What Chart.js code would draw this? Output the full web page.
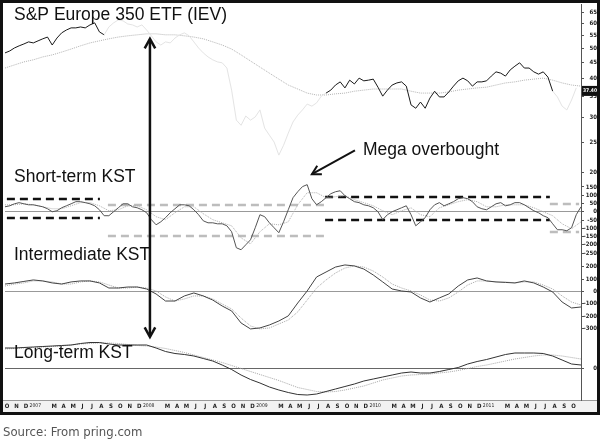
<!DOCTYPE html>
<html>
<head>
<meta charset="utf-8">
<script src="https://cdn.jsdelivr.net/npm/chart.js@4/dist/chart.umd.min.js"></script>
<style>
  html, body { margin: 0; padding: 0; background: #fff; }
  canvas { display: block; }
</style>
</head>
<body>
<canvas id="kstChart" width="600" height="440"></canvas>
<script>
// x is counted in months from Oct 2006 (0) to Nov 2011 (61)
const monthLabels = ['O', 'N', 'D',
    '2007', '', 'M', 'A', 'M', 'J', 'J', 'A', 'S', 'O', 'N', 'D',
    '2008', '', 'M', 'A', 'M', 'J', 'J', 'A', 'S', 'O', 'N', 'D',
    '2009', '', 'M', 'A', 'M', 'J', 'J', 'A', 'S', 'O', 'N', 'D',
    '2010', '', 'M', 'A', 'M', 'J', 'J', 'A', 'S', 'O', 'N', 'D',
    '2011', '', 'M', 'A', 'M', 'J', 'J', 'A', 'S', 'O', ''];

// S&P Europe 350 ETF, twice a month
const priceValues = [48.4, 49.1, 50.2, 51.0, 51.7, 52.5, 52.1, 52.9, 53.7, 54.4,
    51.3, 54.0, 56.1, 57.3, 58.2, 58.2, 58.6, 58.2, 59.5, 60.4,
    56.5, 55.3, 58.6, 60.4, 61.7, 61.3, 59.9, 59.5, 58.6, 59.5,
    57.3, 54.9, 52.5, 51.3, 52.5, 52.1, 54.0, 55.3, 56.1, 54.9,
    52.5, 50.2, 48.4, 47.0, 46.0, 45.3, 45.0, 43.3, 36.8, 29.5,
    28.4, 30.4, 29.5, 30.2, 31.8, 27.8, 26.4, 25.1, 22.8, 24.5,
    26.8, 29.1, 30.6, 31.8, 33.2, 32.7, 33.5, 35.2, 36.0, 36.8,
    38.2, 39.1, 37.4, 39.6, 38.5, 40.2, 39.4, 39.6, 39.9, 37.6,
    35.2, 36.8, 38.2, 38.8, 39.1, 37.9, 33.0, 32.2, 33.7, 32.2,
    34.7, 36.5, 35.0, 35.0, 36.3, 37.9, 39.4, 40.2, 39.4, 37.9,
    39.1, 39.1, 39.4, 40.8, 42.1, 41.7, 40.8, 42.7, 43.9, 45.0,
    43.3, 43.3, 42.1, 41.4, 42.1, 40.5, 36.5, 35.0, 32.7, 31.8,
    34.2, 37.4];
// monthly moving average of the price
const priceAverage = [43.3, 44.3, 45.3, 46.0, 47.0, 47.7, 48.7, 49.8, 51.0, 52.1,
    52.9, 53.7, 54.4, 54.9, 55.3, 55.7, 55.7, 55.3, 55.3, 54.9,
    54.4, 53.7, 52.5, 51.3, 49.8, 47.7, 45.6, 43.6, 41.7, 39.9,
    38.2, 37.1, 36.0, 35.5, 35.5, 35.8, 36.0, 36.5, 36.8, 37.1,
    37.1, 37.1, 37.1, 36.5, 36.0, 36.0, 36.0, 36.3, 36.8, 37.1,
    37.4, 37.6, 38.2, 38.8, 39.1, 39.6, 39.9, 40.2, 39.6, 38.8,
    38.2, 37.9];
// months where the price is printed in black
const highlightFrom = [0, 34];
const highlightTo = [10.5, 58];

// short-term KST, twice a month
const shortKst = [30, 36, 48, 55, 48, 42, 42, 36, 30, 18,
    0, 6, 24, 36, 48, 61, 61, 55, 48, 36,
    12, -24, -24, 0, 24, 48, 48, 30, 24, 12,
    -6, -48, -79, -61, -36, -6, 18, 42, 42, 36,
    12, -18, -55, -67, -67, -73, -73, -85, -121, -218,
    -230, -200, -170, -97, -18, -30, -67, -97, -127, -61,
    12, 85, 121, 152, 164, 79, 42, 61, 85, 109,
    121, 127, 97, 79, 61, 55, 42, 36, 24, 0,
    -48, -18, 0, 12, 24, 36, -18, -85, -61, -36,
    12, 42, 55, 36, 48, 61, 79, 85, 79, 61,
    30, 18, 12, 30, 48, 55, 36, 42, 55, 55,
    42, 24, 6, -6, -24, -36, -73, -109, -109, -115,
    -97, -18, 30];
const shortSignal = [42, 42, 48, 42, 30, 18, 18, 36, 55, 55,
    36, 6, 12, 36, 36, 12, -30, -48, -6, 30,
    30, -12, -48, -67, -85, -158, -194, -121, -73, -79,
    -61, 42, 115, 115, 85, 91, 97, 73, 55, 36,
    6, -18, 6, 24, -18, -30, 24, 42, 61, 73,
    61, 30, 30, 42, 42, 42, 24, 0, -24, -73,
    -103, -61];
// overbought / oversold bands on the short-term KST (months, levels)
const blackBandFrom = [0.2, 33.9];
const blackBandTo = [10.05, 57.7];
const blackBandHigh = [77, 89];
const blackBandLow = [-38, -50];
const grayBandFrom = [10.9, 57.7];
const grayBandTo = [33.9, 60.8];
const grayBandHigh = [41, 47];
const grayBandLow = [-147, -123];

// intermediate KST, monthly
const intKst = [60, 69, 81, 93, 85, 69, 60, 77, 85, 85,
    69, 28, 28, 36, 36, 20, -20, -77, -77, -36,
    -12, -36, -69, -117, -157, -254, -302, -294, -270, -238,
    -197, -93, 4, 117, 157, 197, 214, 206, 181, 133,
    77, 20, 4, -4, -52, -85, -52, -20, 44, 93,
    109, 85, 77, 73, 69, 85, 69, 36, -4, -85,
    -133, -125];
const intSignal = [44, 60, 69, 85, 85, 77, 60, 60, 77, 85,
    77, 52, 28, 28, 36, 28, 4, -44, -77, -60,
    -36, -36, -60, -101, -141, -214, -278, -302, -294, -262,
    -230, -165, -69, 28, 93, 149, 189, 206, 197, 165,
    117, 60, 28, 4, -28, -69, -77, -52, -4, 52,
    85, 85, 77, 77, 69, 77, 77, 52, 20, -36,
    -85, -109];

// long-term KST, monthly
const longKst = [80, 80, 82, 84, 86, 88, 90, 92, 98, 102,
    102, 96, 92, 92, 92, 92, 80, 66, 58, 54,
    48, 38, 28, 12, -6, -28, -46, -60, -76, -88,
    -98, -106, -108, -104, -94, -84, -74, -64, -52, -44,
    -36, -28, -20, -16, -20, -20, -14, -6, 2, 16,
    26, 34, 44, 54, 60, 60, 60, 58, 48, 32,
    16, 12];
const longSignal = [76, 78, 80, 82, 84, 86, 88, 92, 96, 98,
    100, 100, 98, 94, 90, 88, 84, 78, 70, 62,
    52, 42, 32, 22, 10, -2, -14, -26, -38, -50,
    -64, -78, -86, -94, -96, -94, -88, -80, -72, -60,
    -48, -40, -32, -28, -26, -24, -20, -16, -10, -2,
    6, 12, 20, 28, 36, 42, 48, 52, 52, 48,
    42, 36];

const priceTicks = [20, 25, 30, 35, 40, 45, 50, 55, 60, 65];
const shortTicks = [150, 100, 50, 0, -50, -100, -150, -200, -250];
const intTicks = [200, 100, 0, -100, -200, -300];
const longTicks = [0];

const HALF_MONTH = 0.5;
const MONTH = 1;

const tinyFamily = '"Liberation Sans Narrow", "DejaVu Sans Condensed", "Liberation Sans", sans-serif';
const tinyFont = { family: tinyFamily, size: 6, weight: 'bold' };
const yearFont = { family: tinyFamily, size: 5, weight: 'normal' };
const titleFont = '17.5px "Liberation Sans", Arial, sans-serif';

function toPoints(values, step)
{
    return values.map((v, i) => ({ x: i * step, y: v }));
}

function isHighlighted(x)
{
    return highlightFrom.some((from, i) => x >= from && x <= highlightTo[i]);
}

function bandSets(from, to, levels, color)
{
    return levels.map((level, i) => ({
        data: [{ x: from[i], y: level }, { x: to[i], y: level }],
        yAxisID: 'yShort',
        borderColor: color,
        borderWidth: 2.5,
        borderDash: [8, 5],
    }));
}

// pad right-axis labels so they end flush near the frame
const measure = document.createElement('canvas').getContext('2d');
function labelPadding(ticks)
{
    measure.font = 'bold 6px ' + tinyFamily;
    const widest = Math.max(...ticks.map(t => measure.measureText(String(t)).width));
    return Math.max(0, 11 - widest);
}

function panelAxis(ticks, min, max, weight, zeroColor, type)
{
    return {
        type: type || 'linear',
        position: 'right',
        stack: 'panels',
        stackWeight: weight,
        min: min,
        max: max,
        bounds: 'data',
        afterBuildTicks: axis => { axis.ticks = ticks.map(v => ({ value: v })); },
        afterFit: axis =>
        {
            axis.width = 16;
            axis.paddingTop = 0;
            axis.paddingBottom = 0;
        },
        grid: {
            color: c => (c.tick && c.tick.value === 0 && zeroColor) ? zeroColor : 'rgba(0,0,0,0)',
            tickColor: '#555',
            tickLength: 3,
        },
        border: { color: '#555' },
        ticks: {
            autoSkip: false,
            padding: labelPadding(ticks),
            crossAlign: 'far',
            font: tinyFont,
            color: '#222',
            callback: v => String(v),
        },
    };
}

function drawArrowHead(ctx, fromX, fromY, toX, toY, size, spread)
{
    const a = Math.atan2(toY - fromY, toX - fromX);
    ctx.beginPath();
    ctx.moveTo(toX - size * Math.cos(a - spread), toY - size * Math.sin(a - spread));
    ctx.lineTo(toX, toY);
    ctx.lineTo(toX - size * Math.cos(a + spread), toY - size * Math.sin(a + spread));
    ctx.stroke();
}

const decorations = {
    id: 'decorations',
    beforeDraw(chart)
    {
        const { ctx } = chart;
        const x = chart.scales.x;
        ctx.save();
        ctx.fillStyle = '#fff';
        ctx.fillRect(0, 0, chart.width, chart.height);
        ctx.fillStyle = '#f2f2f2';
        ctx.fillRect(3, x.top, 594, x.height);
        ctx.strokeStyle = '#999';
        ctx.lineWidth = 1;
        ctx.beginPath();
        ctx.moveTo(3, x.top + 0.5);
        ctx.lineTo(597, x.top + 0.5);
        ctx.stroke();
        ctx.restore();
    },
    afterDraw(chart)
    {
        const { ctx, scales } = chart;
        const x = scales.x, yPrice = scales.yPrice, yShort = scales.yShort, yInt = scales.yInt, yLong = scales.yLong;
        const left = chart.chartArea.left;
        ctx.save();

        // panel titles
        ctx.fillStyle = '#111';
        ctx.font = titleFont;
        ctx.textBaseline = 'alphabetic';
        ctx.textAlign = 'left';
        ctx.fillText('S&P Europe 350 ETF (IEV)', left + 9, yPrice.top + 16);
        ctx.fillText('Short-term KST', left + 9, yShort.top);
        ctx.fillText('Intermediate KST', left + 9, yInt.top + 2);
        ctx.fillText('Long-term KST', left + 9, yLong.top + 23);

        // double arrow from the price top to the long-term KST
        const ax = x.getPixelForValue(15.35);
        const aTop = yPrice.getPixelForValue(53.7);
        const aBottom = yLong.getPixelForValue(124);
        ctx.strokeStyle = '#111';
        ctx.lineWidth = 2.5;
        ctx.lineJoin = 'miter';
        ctx.beginPath();
        ctx.moveTo(ax, aTop + 1);
        ctx.lineTo(ax, aBottom - 1);
        ctx.stroke();
        drawArrowHead(ctx, ax, aBottom, ax, aTop, 11, 0.5);
        drawArrowHead(ctx, ax, aTop, ax, aBottom, 11, 0.5);

        // mega overbought callout
        const tx = x.getPixelForValue(37.06), ty = yPrice.getPixelForValue(23.6);
        const hx = x.getPixelForValue(32.5), hy = yPrice.getPixelForValue(19.8);
        ctx.lineWidth = 2;
        ctx.beginPath();
        ctx.moveTo(tx, ty);
        ctx.lineTo(hx, hy);
        ctx.stroke();
        drawArrowHead(ctx, tx, ty, hx, hy, 10, 0.5);
        ctx.fillText('Mega overbought', x.getPixelForValue(37.9), yPrice.getPixelForValue(22.8));

        // last price marker on the right axis
        const last = priceValues[priceValues.length - 1];
        const by = yPrice.getPixelForValue(last) + 3;
        ctx.fillStyle = '#111';
        ctx.fillRect(yPrice.left + 1, by - 5, 16, 10);
        ctx.fillStyle = '#fff';
        ctx.font = 'bold 5px ' + tinyFamily;
        ctx.textAlign = 'center';
        ctx.textBaseline = 'middle';
        ctx.fillText(last.toFixed(2), yPrice.left + 9, by);

        // frame
        ctx.fillStyle = '#111';
        ctx.fillRect(0, 0, 600, 3);
        ctx.fillRect(0, 0, 3, 415);
        ctx.fillRect(597, 0, 3, 415);
        ctx.fillRect(0, 412, 600, 3);

        // source
        ctx.fillStyle = '#555';
        ctx.font = '13px "Liberation Sans Narrow", "DejaVu Sans Condensed", sans-serif';
        ctx.textAlign = 'left';
        ctx.textBaseline = 'alphabetic';
        ctx.fillText('Source: From pring.com', 3, 436);
        ctx.restore();
    }
};

const chartContext = document.getElementById('kstChart').getContext('2d');
new Chart(chartContext, {
    type: 'line',
    data: {
        datasets: [
            {
                data: toPoints(priceValues, HALF_MONTH),
                yAxisID: 'yPrice',
                borderWidth: 1,
                borderColor: '#1a1a1a',
                segment: {
                    borderColor: c => isHighlighted(c.p0.parsed.x) && isHighlighted(c.p1.parsed.x) ? '#1a1a1a' : '#e4e4e4',
                },
            },
            {
                data: toPoints(priceAverage, MONTH),
                yAxisID: 'yPrice',
                borderWidth: 1,
                borderColor: '#b4b4b4',
                borderDash: [1, 1],
            },
            {
                data: toPoints(shortKst, HALF_MONTH),
                yAxisID: 'yShort',
                borderWidth: 1,
                borderColor: '#555',
            },
            {
                data: toPoints(shortSignal, MONTH),
                yAxisID: 'yShort',
                borderWidth: 1,
                borderColor: '#b0b0b0',
                borderDash: [1, 1],
            },
            ...bandSets(blackBandFrom, blackBandTo, blackBandHigh, '#111'),
            ...bandSets(blackBandFrom, blackBandTo, blackBandLow, '#111'),
            ...bandSets(grayBandFrom, grayBandTo, grayBandHigh, '#bdbdbd'),
            ...bandSets(grayBandFrom, grayBandTo, grayBandLow, '#bdbdbd'),
            {
                data: toPoints(intKst, MONTH),
                yAxisID: 'yInt',
                borderWidth: 1,
                borderColor: '#444',
            },
            {
                data: toPoints(intSignal, MONTH),
                yAxisID: 'yInt',
                borderWidth: 1,
                borderColor: '#a8a8a8',
                borderDash: [1, 1],
            },
            {
                data: toPoints(longKst, MONTH),
                yAxisID: 'yLong',
                borderWidth: 1,
                borderColor: '#333',
            },
            {
                data: toPoints(longSignal, MONTH),
                yAxisID: 'yLong',
                borderWidth: 1,
                borderColor: '#a8a8a8',
                borderDash: [1, 1],
            },
        ]
    },
    options: {
        responsive: false,
        animation: false,
        devicePixelRatio: 1,
        layout: {
            padding: { top: 4, bottom: 28, left: 5, right: 3 },
        },
        elements: {
            point: { radius: 0 },
            line: { tension: 0, fill: false },
        },
        plugins: {
            legend: { display: false },
            tooltip: { enabled: false },
        },
        scales: {
            x: {
                type: 'linear',
                position: 'bottom',
                min: 0,
                max: 61,
                bounds: 'data',
                afterBuildTicks: axis => { axis.ticks = monthLabels.map((_, i) => ({ value: i })); },
                afterFit: axis =>
                {
                    axis.height = 12;
                    axis.paddingLeft = 0;
                    axis.paddingRight = 0;
                },
                grid: { display: false, drawTicks: false },
                border: { display: false },
                ticks: {
                    autoSkip: false,
                    maxRotation: 0,
                    minRotation: 0,
                    padding: 3,
                    labelOffset: 2,
                    font: c => (c.tick && (monthLabels[c.tick.value] || '').length > 1) ? yearFont : tinyFont,
                    color: '#222',
                    callback: v => monthLabels[v] ?? '',
                },
            },
            yPrice: panelAxis(priceTicks, 18.7, 69.4, 178, null, 'logarithmic'),
            yShort: panelAxis(shortTicks, -280, 180, 76, '#999'),
            yInt: panelAxis(intTicks, -351, 270, 77, '#999'),
            yLong: panelAxis(longTicks, -128, 132, 65, '#666'),
        }
    },
    plugins: [decorations],
});
</script>
</body>
</html>
